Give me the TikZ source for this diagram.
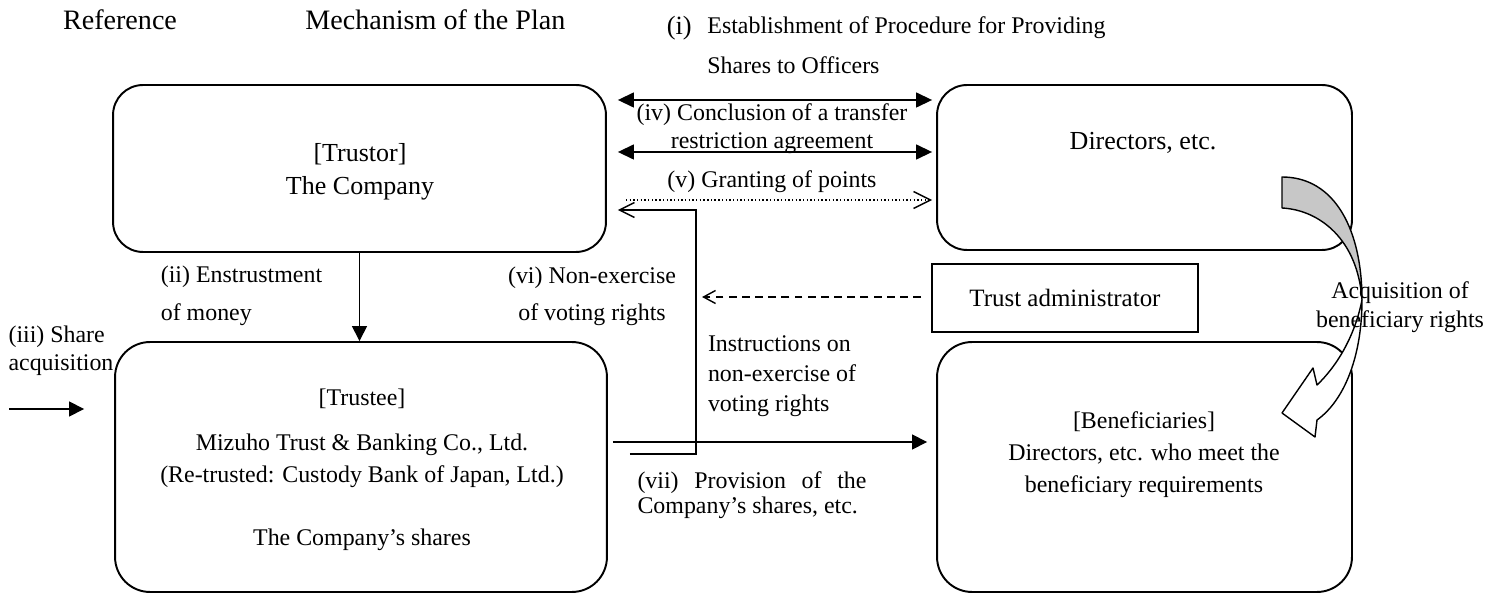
\documentclass[tikz,border=0pt]{standalone}
\usepackage{fontspec}
\setmainfont{Liberation Serif}
\usetikzlibrary{arrows.meta,calc,positioning}
\tikzset{
    party/.style={draw, line width=1.1pt, rounded corners=0.6cm, inner sep=0pt}, % the rounded boxes
    lbl/.style={font=\fontsize{13.6}{#1}\selectfont, inner sep=0pt, align=center}, % #1 is the line distance
    lbl/.default=16pt,
    big/.style={font=\fontsize{14.8}{18.8}\selectfont, inner sep=0pt, align=center},
    title/.style={font=\fontsize{16}{19}\selectfont, inner sep=0pt},
    link/.style={line width=0.8pt},
    solid tip/.style={-{Triangle[length=0.3cm,width=0.3cm]}},
    both tips/.style={{Triangle[length=0.32cm,width=0.3cm]}-{Triangle[length=0.32cm,width=0.3cm]}},
    open tip/.style={-{Straight Barb[length=0.34cm,width=0.34cm]}},
}

\begin{document}
\begin{tikzpicture}[x=0.02cm, y=-0.02cm] % one unit is one pixel of the sketch, y downwards
  \useasboundingbox (0,0) rectangle (1488,594);

  % boxes
  \node[party, minimum width=9.86cm, minimum height=3.34cm] (trustor) at (359.5,168.5) {};
  \node[party, minimum width=8.3cm, minimum height=3.3cm] (directors) at (1144.5,167.5) {};
  \node[party, rounded corners=0.7cm, minimum width=9.84cm, minimum height=5cm] (trustee) at (361,467) {};
  \node[party, rounded corners=0.7cm, minimum width=8.3cm, minimum height=5cm] (benef) at (1144.5,467) {};
  \node[draw, line width=1.1pt, minimum width=5.32cm, minimum height=1.36cm,
      font=\fontsize{14.2}{17}\selectfont] (admin) at (1065,298) {Trust administrator};

  \node[big] (trustor-txt) at (360,171.5) {[Trustor]\\The Company};
  \node[big] (directors-txt) at (1143,143) {Directors, etc.};
  \node[lbl=18.2pt] (trustee-txt) at (362,470)
      {[Trustee]\\[7pt]Mizuho Trust \& Banking Co., Ltd.\\(Re-trusted: Custody Bank of Japan, Ltd.)\\[18pt]The Company's shares};
  \node[lbl=18.2pt] (benef-txt) at (1144,455)
      {[Beneficiaries]\\Directors, etc. who meet the\\beneficiary requirements};

  % headings
  \node[title] (ref) at (120,20) {Reference};
  \node[title, anchor=west] (mech) at (305,20) {Mechanism of the Plan};
  \node[lbl=22.8pt, align=left] (proc) at (906.5,45) {Establishment of Procedure for Providing\\Shares to Officers};
  \node[lbl, font=\fontsize{15}{18}\selectfont, left=0.3cm of proc.north west, anchor=north east] (proc-num) {(i)};

  % arrows between the parties
  \draw[link, both tips] ($(trustor.east)+(11,-68.5)$) -- ($(directors.west)+(-4,-67.5)$);
  \draw[link, both tips] ($(trustor.east)+(11,-16.5)$) -- ($(directors.west)+(-4,-15.5)$);
  \draw[link, dash pattern=on 0.8pt off 1.3pt, open tip] ($(trustor.east)+(19,31.5)$) -- ($(directors.west)+(-4,32.5)$);
  \draw[link, -{Straight Barb[length=0.3cm,width=0.3cm]}]
      ($(trustee.east)+(22,-13)$) -| ($(trustor.east)+(89,41.5)$) -- ($(trustor.east)+(11,41.5)$);
  \draw[link, solid tip] ($(trustee.east)+(5,-25)$) -- ($(benef.west)+(-9,-25)$);
  \draw[link, solid tip] (trustor.south) -- (trustor.south |- trustee.north);
  \draw[link, dash pattern=on 4.5pt off 3pt, -{Straight Barb[length=0.24cm,width=0.26cm]}]
      ($(admin.west)+(-10,-1)$) -- ($(admin.west)+(-229,-1)$);
  \draw[link, solid tip] ($(trustee.west)+(-105,-58)$) -- ($(trustee.west)+(-30,-58)$);

  % curved arrow from directors to beneficiaries
  \filldraw[fill=black!22, line width=0.8pt, line join=round]
      (1282,177) .. controls (1335,177) and (1362,230) .. (1362,300)
      .. controls (1358,240) and (1320,210) .. (1282,208) -- cycle;
  \filldraw[fill=white, line width=0.8pt, line join=round]
      (1362,300) .. controls (1362,355) and (1345,400) .. (1317,420)
      -- (1315,437) -- (1282,413) -- (1313,368) -- (1317,385)
      .. controls (1338,365) and (1355,335) .. (1362,300) -- cycle;

  % labels
  \node[lbl=15.9pt] (conclude) at (772,129) {(iv) Conclusion of a transfer\\restriction agreement};
  \node[lbl] (points) at (772,182) {(v) Granting of points};
  \node[lbl=21.6pt, align=left] (money) at (241.5,296) {(ii) Enstrustment\\of money};
  \node[lbl=21pt] (vote) at (592,296.5) {(vi) Non-exercise\\of voting rights};
  \node[lbl=17pt, align=left] (instr) at (782,376) {Instructions on\\non-exercise of\\voting rights};
  \node[lbl=14.2pt, align=left] (provide) at (752,495.5)
      {\makebox[4.58cm][s]{(vii) Provision of the}\\Company's shares, etc.};
  \node[lbl, align=left] (buy) at (61,351) {(iii) Share\\acquisition};
  \node[lbl=16.5pt] (acq) at (1400,307.5) {Acquisition of\\beneficiary rights};
\end{tikzpicture}
\end{document}
